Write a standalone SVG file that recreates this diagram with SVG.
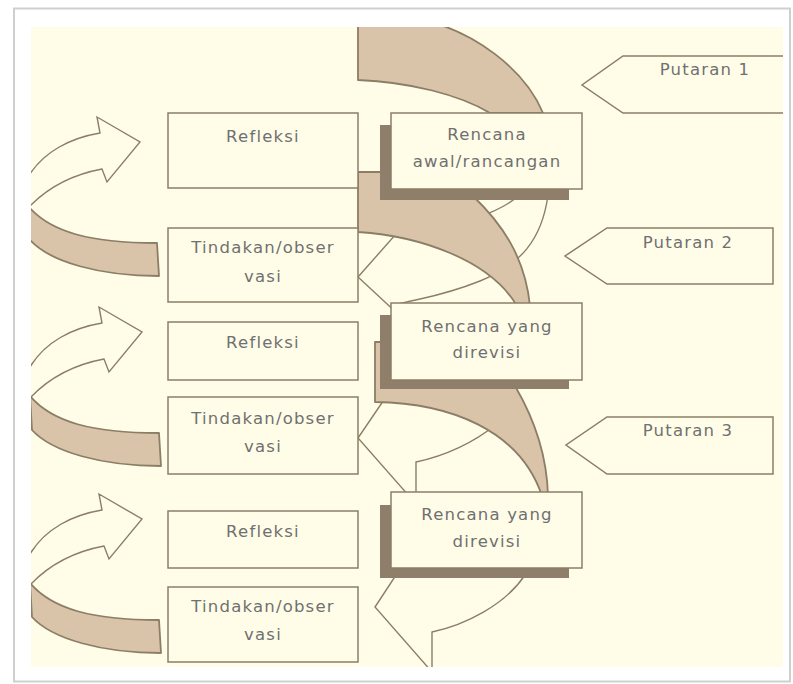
<svg xmlns="http://www.w3.org/2000/svg" width="793" height="684" viewBox="0 0 793 684">
<defs>
<style>
.bx{fill:#FFFDE8;stroke:#8C7D66;stroke-width:1.5}
.sh{fill:#8E7E6A}
.tan{fill:#D9C4A9;stroke:#8C7D66;stroke-width:1.8;stroke-linejoin:round}
.fr{fill:#FFFDE8;stroke:#8C7D66;stroke-width:1.4;stroke-linejoin:miter}
.t{font-family:"DejaVu Sans",Verdana,sans-serif;font-size:16.5px;letter-spacing:1.2px;fill:#707070;text-anchor:middle}
</style>
<clipPath id="cl"><rect x="31" y="27" width="752" height="640"/></clipPath>
<g id="larrow">
<path class="fr" d="M 28,177 C 43,152 70,138 100,133 L 97,117 L 140,142 L 107,182 L 102,169 C 70,175 45,190 28,208 Z"/>
<path class="tan" d="M 28,206 C 50,232 90,243 157,243 L 159,276 C 100,276 50,262 30,240 Z"/>
</g>
</defs>
<rect x="0" y="0" width="793" height="684" fill="#FFFFFF"/>
<rect x="14" y="8.5" width="776" height="673" fill="#FFFFFF" stroke="#CFCFCF" stroke-width="2"/>
<rect x="31" y="27" width="752" height="640" fill="#FFFDE8"/>
<g clip-path="url(#cl)">
<g id="connectors">
<use href="#larrow"/>
<use href="#larrow" transform="translate(2,190)"/>
<use href="#larrow" transform="translate(2,377)"/>
<path class="fr" d="M 548,195 C 542,240 520,265 480,281 S 420,298 395,305 L 400,316 L 358,277 L 404,225 L 412,232 C 450,228 500,214 519,195 Z"/>
<path class="fr" d="M 505,385 L 495,425 C 475,442 445,456 416,462 L 416,504 L 358,438 L 392,388 L 400,392 Z"/>
<path class="fr" d="M 525,575 C 505,605 465,625 432,632 L 432,672 L 375,607 L 398,572 Z"/>
<path class="tan" d="M 358,18 L 358,80 C 410,82 460,95 490,113 L 543,113 C 525,70 475,30 415,18 Z"/>
<path class="tan" d="M 358,172 L 470,172 L 473,196 C 500,222 525,255 530,306 L 517,306 C 490,260 420,236 358,232 Z"/>
<path class="tan" d="M 375,342 L 510,342 L 515,386 C 535,420 547,455 548,496 L 542,496 C 520,430 450,403 375,402 Z"/>
</g>
<g id="rencana1"><rect class="sh" x="380" y="125" width="189" height="75"/><rect class="bx" x="391" y="113" width="191" height="76"/><text class="t" x="487" y="140">Rencana</text><text class="t" x="487" y="167">awal/rancangan</text></g>
<g id="rencana2"><rect class="sh" x="380" y="315" width="189" height="74"/><rect class="bx" x="391" y="303" width="191" height="77"/><text class="t" x="487" y="332">Rencana yang</text><text class="t" x="487" y="358">direvisi</text></g>
<g id="rencana3"><rect class="sh" x="380" y="505" width="189" height="73"/><rect class="bx" x="391" y="492" width="191" height="76"/><text class="t" x="487" y="520">Rencana yang</text><text class="t" x="487" y="547">direvisi</text></g>
<g id="refleksi1"><rect class="bx" x="168" y="113" width="190" height="75"/><text class="t" x="263" y="142">Refleksi</text></g>
<g id="tindakan1"><rect class="bx" x="168" y="228" width="190" height="74"/><text class="t" x="263" y="253">Tindakan/obser</text><text class="t" x="263" y="282">vasi</text></g>
<g id="refleksi2"><rect class="bx" x="168" y="322" width="190" height="58"/><text class="t" x="263" y="348">Refleksi</text></g>
<g id="tindakan2"><rect class="bx" x="168" y="397" width="190" height="77"/><text class="t" x="263" y="424">Tindakan/obser</text><text class="t" x="263" y="452">vasi</text></g>
<g id="refleksi3"><rect class="bx" x="168" y="511" width="190" height="57"/><text class="t" x="263" y="537">Refleksi</text></g>
<g id="tindakan3"><rect class="bx" x="168" y="587" width="190" height="75"/><text class="t" x="263" y="612">Tindakan/obser</text><text class="t" x="263" y="640">vasi</text></g>
<g id="putaran1"><path class="bx" d="M 795,56 L 623,56 L 582,85 L 623,113 L 795,113"/><text class="t" x="705" y="75">Putaran 1</text></g>
<g id="putaran2"><path class="bx" d="M 773,228 L 607,228 L 565,256 L 607,284 L 773,284 Z"/><text class="t" x="688" y="248">Putaran 2</text></g>
<g id="putaran3"><path class="bx" d="M 773,417 L 607,417 L 566,445 L 607,474 L 773,474 Z"/><text class="t" x="688" y="436">Putaran 3</text></g>
</g>
</svg>
